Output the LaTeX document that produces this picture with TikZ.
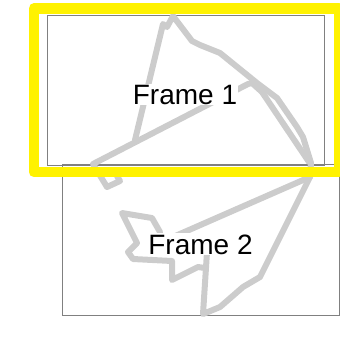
\documentclass[tikz,border=0pt]{standalone}
\usepackage{fontspec}
\setmainfont{Liberation Sans}
\definecolor{scribblegray}{HTML}{CCCCCC}
\definecolor{framegray}{HTML}{808080}
\begin{document}
\begin{tikzpicture}[x=1pt,y=-1pt,
    framebox/.style={draw=framegray,line width=0.8pt},
    scribble/.style={draw=scribblegray,line width=6pt,line join=round,line cap=round},
    framename/.style={fill=white,inner sep=1pt,anchor=base,font=\fontsize{28}{32}\selectfont},
    spotlight/.style={draw=yellow,line width=10.5pt,line join=round}]
    \useasboundingbox (0,0) rectangle (340,338);
    \draw[framebox] (47.7,15) rectangle (324.3,165.7);
    \draw[framebox] (62.3,164.7) rectangle (339.3,315.3);
    % the scribble
    \draw[scribble] (135,140) -- (163,24) -- (167,27) -- (173,16) -- (192,41) -- (200,45)
                    -- (220,53) -- (257,83) -- (277,98) -- (297,127) -- (303,137)
                    -- (311,163) -- (310,177) -- (260,277) -- (243,287) -- (220,307)
                    -- (203,314) -- (207,252);
    \draw[scribble] (117,176) -- (120,181) -- (107,187) -- (93,164) -- (248,84)
                    -- (252,83) -- (262,92) -- (309,162);
    \draw[scribble] (310,177) -- (173,237);
    \draw[scribble] (160,232) -- (152,218) -- (122,213) -- (137,243) -- (128,252)
                    -- (133,259) -- (172,261) -- (172,280) -- (198,267) -- (205,268);
    \node[framename] (f1name) at (185,104) {Frame 1};
    \node[framename] (f2name) at (200.5,254) {Frame 2};
    \draw[spotlight] (33.8,8.3) rectangle (338.8,172);
\end{tikzpicture}
\end{document}
